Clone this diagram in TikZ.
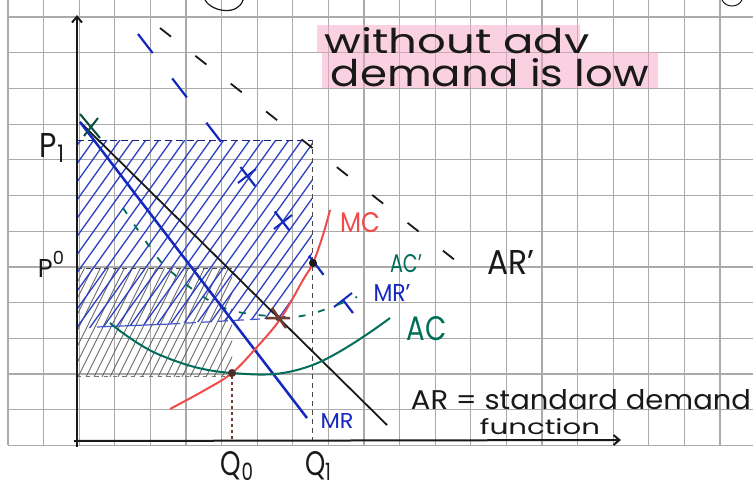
\documentclass[tikz,border=0pt]{standalone}
\usepackage{fontspec}
\setmainfont{Poppins}
\usepackage{graphicx}
\usetikzlibrary{arrows.meta}
\definecolor{gridc}{RGB}{170,170,170}
\definecolor{penblue}{RGB}{20,40,190}
\definecolor{hatchblue}{RGB}{45,65,195}
\definecolor{tealpen}{RGB}{0,110,90}
\definecolor{redpen}{RGB}{240,75,75}
\definecolor{brownpen}{RGB}{110,60,50}
\definecolor{pinkhl}{RGB}{245,165,195}
\definecolor{ink}{RGB}{25,25,25}
\newcommand{\handtxt}[3]{\resizebox{#1pt}{#2pt}{#3}}
\begin{document}
\begin{tikzpicture}[x=1pt,y=-1pt,
  lbl/.style={inner sep=0pt,outer sep=0pt,text=ink},
  gridline/.style={gridc,line width=1.2pt},
  axisline/.style={ink,line width=2pt,-{Straight Barb[length=6pt,width=10pt]}},
  guideline/.style={ink!80,line width=0.9pt,dash pattern=on 5pt off 4pt},
  curvepen/.style={line width=2pt},
  dotpt/.style={circle,fill=ink,inner sep=0pt,minimum size=8pt}]
\useasboundingbox (0,0) rectangle (753,485);
\fill[white] (0,0) rectangle (753,485);
% grid paper
\foreach \k in {0,...,20} \draw[gridline] ({8+35.6*\k},0) -- ({8+35.6*\k},445);
\foreach \k in {0,...,12} \draw[gridline] (8,{17+35.7*\k}) -- (753,{17+35.7*\k});
% highlighter
\fill[pinkhl,opacity=0.5] (317,25) -- (580,25) -- (580,52) -- (658,52) -- (658,88) -- (322,88) -- (322,53) -- (317,53) -- cycle;
% scribbles at top
\draw[ink,line width=1.2pt] (205,0) .. controls (212,12) and (238,16) .. (243,0);
\draw[ink,line width=1pt] (722,0) .. controls (726,8) and (738,8) .. (742,0);
% gray hatch
\begin{scope}
\clip (77,268) rectangle (232,376);
\foreach \i in {0,...,30} \draw[ink!70,line width=0.8pt] ({10+8*\i},385) -- ++(65,-130);
\end{scope}
% blue hatch
\begin{scope}
\clip (77,140) -- (312,140) -- (312,262) -- (303,280) -- (281,318) -- (97,327) -- (77,330) -- cycle;
\foreach \i in {0,...,31} \draw[hatchblue,line width=1.3pt] ({-75+13*\i},340) -- ++(155,-217);
\end{scope}
% named points
\coordinate (O) at (77,447);
\coordinate (ytop) at (77,15);
\coordinate (xo) at (74,441);
\coordinate (xend) at (621,440);
\coordinate (P1) at (80,122);
\coordinate (ARend) at (387,425);
\coordinate (MRend) at (307,418);
\coordinate (ARpA) at (160,28);
\coordinate (ARpB) at (465,268);
\coordinate (MRpA) at (138,34);
\coordinate (MRpB) at (353,313);
\coordinate (p1l) at (77,140);
\coordinate (p1r) at (312,140);
\coordinate (q1b) at (312,441);
\coordinate (p0l) at (77,268);
\coordinate (p0r) at (232,268);
\coordinate (acl) at (77,376);
\coordinate (acr) at (232,376);
\coordinate (q0b) at (232,441);
\coordinate (hl) at (97,327);
\coordinate (hm) at (170,324);
% guide lines
\draw[penblue!60!ink,line width=1pt,dash pattern=on 7pt off 4pt] (p1l) -- (p1r);
\draw[guideline] (p1r) -- (q1b);
\draw[guideline] (p0l) -- (p0r);
\draw[ink!60,line width=0.9pt,dash pattern=on 4pt off 5pt] (acl) -- (acr);
% axes
\draw[axisline] (O) -- (ytop);
\draw[axisline] (xo) -- (xend);
% AR' and MR' (dashed)
\draw[ink,line width=1.8pt,dash pattern=on 14pt off 31pt] (ARpA) -- (ARpB);
\draw[penblue,line width=2.2pt,dash pattern=on 24pt off 32pt] (MRpA) -- (MRpB);
\foreach \p in {(247,176),(283,222),(343,300)}
  \draw[penblue,line width=2pt] \p ++(-9,7) -- ++(18,-14);
% blue horizontal
\draw[penblue!80,line width=1.2pt] (hl) -- (hm);
% AC' dashed teal
\draw[tealpen,line width=1.8pt,dash pattern=on 7pt off 13pt] plot[smooth,tension=0.6] coordinates {(123,208) (157,257) (175,275) (202,296) (230,310) (270,316) (307,315) (357,297)};
% AR and MR
\draw[ink,line width=1.8pt] (P1) -- (ARend);
\draw[penblue,line width=2.5pt] (P1) -- (MRend);
\draw[tealpen!60!ink,line width=2pt] (80,114) -- (100,138) (84,136) -- (98,118);
% AC
\draw[tealpen,curvepen] plot[smooth,tension=0.7] coordinates {(110,323) (160,355) (232,373) (310,366) (390,318)};
% MC
\draw[redpen,curvepen] plot[smooth,tension=0.6] coordinates {(170,409) (205,390) (232,373) (257,347) (281,318) (303,280) (313,263) (323,235) (330,210)};
% blue dashed to brown point and Q0 line
\draw[penblue!80,line width=1.2pt,dash pattern=on 10pt off 6pt] (hm) -- (278,318);
\draw[brownpen,line width=1.3pt,dash pattern=on 3pt off 3pt] (acr) -- (q0b);
% points
\node[dotpt] (E1) at (313,263) {};
\node[dotpt,fill=brownpen!60!ink] (E0) at (232,373) {};
\draw[brownpen,line width=2.5pt] (266,318) -- (290,318) (272,308) -- (286,328);
\node[circle,fill=brownpen,inner sep=0pt,minimum size=6pt] (E2) at (278,318) {};
% text
\node[lbl] (t1) at (457,41) {\handtxt{265}{26}{without adv}};
\node[lbl] (t2) at (490,73) {\handtxt{318}{28}{demand is low}};
\node[lbl] (tP1) at (52,148) {\handtxt{24}{24}{P\raisebox{-0.3ex}{\scriptsize 1}}};
\node[lbl] (tP0) at (51,264) {\handtxt{26}{26}{P\raisebox{0.9ex}{\scriptsize 0}}};
\node[lbl] (tQ0) at (237,466) {\handtxt{32}{24}{Q\raisebox{-0.3ex}{\scriptsize 0}}};
\node[lbl] (tQ1) at (318,466) {\handtxt{26}{24}{Q\raisebox{-0.3ex}{\scriptsize 1}}};
\node[lbl,text=redpen] (tMC) at (360,223) {\handtxt{40}{20}{MC}};
\node[lbl,text=tealpen] (tACp) at (406,264) {\handtxt{32}{18}{AC'}};
\node[lbl] (tARp) at (511,262) {\handtxt{47}{24}{AR'}};
\node[lbl,text=penblue] (tMRp) at (392,293) {\handtxt{37}{17}{MR'}};
\node[lbl,text=tealpen] (tAC) at (427,329) {\handtxt{40}{24}{AC}};
\node[lbl,text=penblue] (tMR) at (337,421) {\handtxt{33}{15}{MR}};
\node[lbl] (tAR) at (581,400) {\handtxt{340}{20}{AR = standard demand}};
\node[lbl] (tfn) at (540,427) {\handtxt{120}{16}{function}};
\end{tikzpicture}
\end{document}
